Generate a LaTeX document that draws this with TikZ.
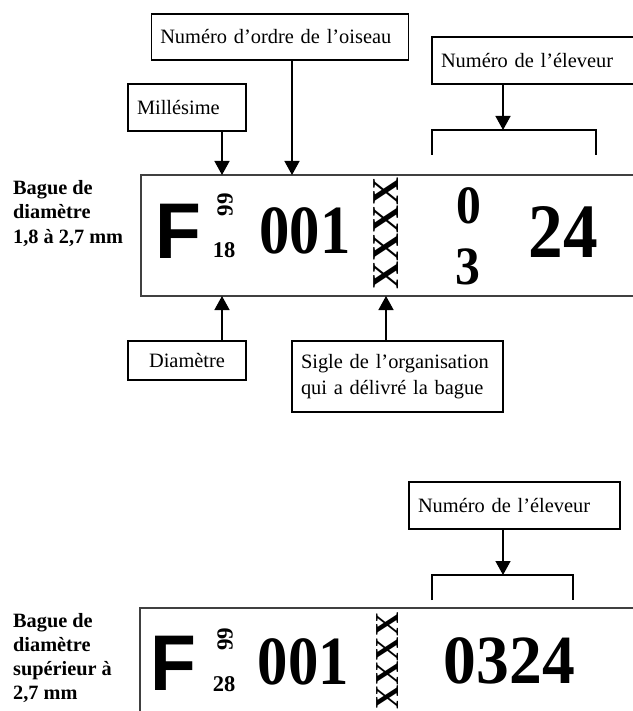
\documentclass[tikz,border=0pt]{standalone}
\usepackage{fontspec}
\usepackage{graphicx}
\setmainfont{Liberation Serif}
\newfontfamily\hei{Liberation Sans}
\usetikzlibrary{arrows.meta}
\definecolor{ln}{gray}{0.25}
\tikzset{
  x=1pt,y=-1pt,
  lbl/.style={draw=black,line width=1.4pt,fill=white,inner xsep=9pt,inner ysep=0pt,font=\fontsize{20.4}{26}\selectfont,align=left},
  side/.style={inner sep=0pt,anchor=west,align=left,font=\fontsize{20.3}{24.3}\selectfont\bfseries},
  ring/.style={draw=ln,line width=1.5pt},
  ringb/.style={draw=ln,line width=1.1pt},
  arr/.style={line width=1.4pt,-{Triangle[length=14pt,width=15pt]}},
  brk/.style={line width=1.3pt},
  dig/.style={inner sep=0pt},
}
\newcommand{\fs}[1]{\fontsize{#1}{#1}\selectfont}
\begin{document}
\begin{tikzpicture}
\useasboundingbox (0,0) rectangle (632,711);
% top ring
\draw[ring] (634,175) -- (141,175) -- (141,296) -- (634,296);
\coordinate (milTip) at (222,175);
\coordinate (numTip) at (292,175);
\coordinate (diaTip) at (222,296);
\coordinate (sigTip) at (386,296);
\node[lbl,text width=239.5pt,minimum height=46pt] (num) at (280,37) {Numéro d’ordre de l’oiseau};
\node[lbl,text width=100pt,minimum height=47pt] (mil) at (187,107.5) {Millésime};
\node[lbl,text width=184pt,minimum height=47pt] (ele) at (533,60.5) {Numéro de l’éleveur};
\node[lbl,text width=100pt,align=center,minimum height=39pt] (dia) at (187,360.5) {\raisebox{-2pt}{Diamètre}};
\node[lbl,text width=193pt,minimum height=71pt] (sig) at (397.5,376.5) {Sigle de l’organisation\\qui a délivré la bague};
\draw[arr] (mil.south -| milTip) -- (milTip);
\draw[arr] (num.south -| numTip) -- (numTip);
\draw[arr] (dia.north -| diaTip) -- (diaTip);
\draw[arr] (sig.north -| sigTip) -- (sigTip);
\coordinate (b1) at (503,130);
\draw[arr] (ele.south -| b1) -- (b1);
\coordinate (b1l) at (432,130); \coordinate (b1r) at (596,130);
\draw[brk] (432,155) -- (b1l) -- (b1r) -- (596,155);
\node[side] (t1) at (13,213.5) {Bague de\\diamètre\\1,8 à 2,7 mm};
\node[dig,font=\hei\bfseries\fs{79}] (F1) at (178.5,231) {\scalebox{.95}[1]{F}};
\node[dig,font=\bfseries\fs{23},rotate=90] (y1) at (225,204.5) {99};
\node[dig,font=\bfseries\fs{22.5}] (d1) at (224,250) {18};
\node[dig,font=\bfseries\fs{69}] (n1) at (305,231) {\scalebox{.88}[1]{001}};
\node[dig,font=\bfseries\fs{38},rotate=90] (x1) at (386.5,233.5) {\scalebox{1.02}[1]{XXXX}};
\node[dig,font=\bfseries\fs{54}] (a1) at (468.5,206) {\scalebox{.92}[1]{0}};
\node[dig,font=\bfseries\fs{54}] (a2) at (467.5,267) {\scalebox{.92}[1]{3}};
\node[dig,font=\bfseries\fs{77}] (a3) at (563,232) {\scalebox{.9}[1]{24}};
% bottom ring
\draw[ringb] (634,608) -- (140,608) -- (140,713);
\node[lbl,text width=193pt,minimum height=47pt] (ele2) at (514.5,505.5) {Numéro de l’éleveur};
\coordinate (b2) at (503,575);
\draw[arr] (ele2.south -| b2) -- (b2);
\coordinate (b2l) at (432,575); \coordinate (b2r) at (573,575);
\draw[brk] (432,600) -- (b2l) -- (b2r) -- (573,600);
\node[side] (t2) at (13,658) {Bague de\\diamètre\\supérieur à\\2,7 mm};
\node[dig,font=\hei\bfseries\fs{79}] (F2) at (173.5,663.5) {\scalebox{.95}[1]{F}};
\node[dig,font=\bfseries\fs{23},rotate=90] (y2) at (225,639) {99};
\node[dig,font=\bfseries\fs{22.5}] (d2) at (224,684) {28};
\node[dig,font=\bfseries\fs{69}] (n2) at (303.5,661.5) {\scalebox{.88}[1]{001}};
\node[dig,font=\bfseries\fs{33.5},rotate=90] (x2) at (387.5,661) {XXXX};
\node[dig,font=\bfseries\fs{69}] (c) at (509.5,661) {\scalebox{.95}[1]{0324}};
\end{tikzpicture}
\end{document}
